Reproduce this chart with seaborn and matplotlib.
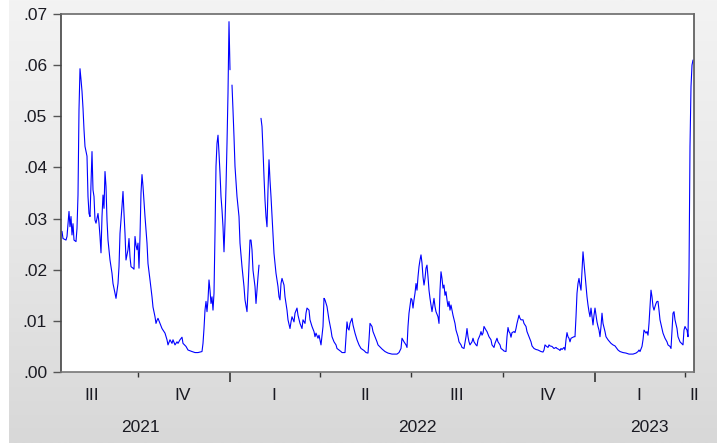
import numpy as np
import pandas as pd
import matplotlib
matplotlib.use("Agg")
import matplotlib.pyplot as plt
import matplotlib.dates as mdates
from matplotlib.colors import LinearSegmentedColormap
from matplotlib.ticker import FixedLocator, FuncFormatter, NullFormatter
from matplotlib.transforms import blended_transform_factory
import seaborn as sns

# ---------------- data ----------------
dates = [
 "2021-07-17","2021-07-18","2021-07-21","2021-07-22","2021-07-24","2021-07-25","2021-07-26","2021-07-27","2021-07-28","2021-07-29",
 "2021-07-31","2021-08-01","2021-08-02","2021-08-03","2021-08-04","2021-08-05","2021-08-06","2021-08-07","2021-08-08","2021-08-09",
 "2021-08-11","2021-08-12","2021-08-13","2021-08-14","2021-08-16","2021-08-17","2021-08-18","2021-08-19","2021-08-20","2021-08-22",
 "2021-08-23","2021-08-24","2021-08-25","2021-08-26","2021-08-27","2021-08-28","2021-08-29","2021-08-30","2021-08-31","2021-09-01",
 "2021-09-03","2021-09-05","2021-09-06","2021-09-08","2021-09-09","2021-09-11","2021-09-12","2021-09-13","2021-09-15","2021-09-16",
 "2021-09-17","2021-09-18","2021-09-19","2021-09-21","2021-09-22","2021-09-23","2021-09-24","2021-09-26","2021-09-27","2021-09-28",
 "2021-09-29","2021-09-30","2021-10-01","2021-10-02","2021-10-03","2021-10-04","2021-10-05","2021-10-06","2021-10-08","2021-10-10",
 "2021-10-11","2021-10-13","2021-10-15","2021-10-16","2021-10-18","2021-10-19","2021-10-20","2021-10-21","2021-10-23","2021-10-25",
 "2021-10-28","2021-10-30","2021-10-31","2021-11-02","2021-11-04","2021-11-05","2021-11-07","2021-11-09","2021-11-10","2021-11-12",
 "2021-11-14","2021-11-15","2021-11-18","2021-11-20","2021-11-24","2021-11-27","2021-11-30","2021-12-04","2021-12-05","2021-12-06",
 "2021-12-07","2021-12-08","2021-12-09","2021-12-10","2021-12-11","2021-12-12","2021-12-13","2021-12-14","2021-12-15","2021-12-16",
 "2021-12-17","2021-12-18","2021-12-19","2021-12-20","2021-12-21","2021-12-22","2021-12-23","2021-12-24","2021-12-25","2021-12-26",
 "2021-12-27","2021-12-28","2021-12-29","2021-12-30","2021-12-31","2022-01-01","2022-01-02","2022-01-03","2022-01-04","2022-01-05",
 "2022-01-06","2022-01-08","2022-01-10","2022-01-11","2022-01-13","2022-01-15","2022-01-16","2022-01-18","2022-01-19","2022-01-21",
 "2022-01-22","2022-01-23","2022-01-24","2022-01-26","2022-01-27","2022-01-29","2022-01-30","2022-01-31","2022-02-01","2022-02-02",
 "2022-02-03","2022-02-04","2022-02-05","2022-02-06","2022-02-07","2022-02-08","2022-02-09","2022-02-10","2022-02-11","2022-02-13",
 "2022-02-14","2022-02-16","2022-02-18","2022-02-19","2022-02-20","2022-02-21","2022-02-22","2022-02-24","2022-02-25","2022-02-27",
 "2022-02-28","2022-03-02","2022-03-03","2022-03-04","2022-03-06","2022-03-07","2022-03-09","2022-03-10","2022-03-12","2022-03-14",
 "2022-03-15","2022-03-17","2022-03-18","2022-03-19","2022-03-21","2022-03-22","2022-03-24","2022-03-26","2022-03-27","2022-03-28",
 "2022-03-30","2022-03-31","2022-04-01","2022-04-02","2022-04-04","2022-04-05","2022-04-06","2022-04-08","2022-04-10","2022-04-12",
 "2022-04-13","2022-04-15","2022-04-17","2022-04-18","2022-04-20","2022-04-22","2022-04-23","2022-04-26","2022-04-27","2022-04-28",
 "2022-04-29","2022-04-30","2022-05-01","2022-05-03","2022-05-04","2022-05-06","2022-05-08","2022-05-10","2022-05-12","2022-05-15",
 "2022-05-17","2022-05-19","2022-05-20","2022-05-21","2022-05-23","2022-05-24","2022-05-26","2022-05-28","2022-05-29","2022-06-02",
 "2022-06-05","2022-06-08","2022-06-12","2022-06-17","2022-06-19","2022-06-21","2022-06-22","2022-06-24","2022-06-26","2022-06-27",
 "2022-06-28","2022-06-29","2022-07-01","2022-07-02","2022-07-03","2022-07-04","2022-07-05","2022-07-06","2022-07-07","2022-07-08",
 "2022-07-09","2022-07-10","2022-07-11","2022-07-12","2022-07-13","2022-07-14","2022-07-15","2022-07-16","2022-07-17","2022-07-18",
 "2022-07-19","2022-07-20","2022-07-21","2022-07-22","2022-07-23","2022-07-24","2022-07-25","2022-07-26","2022-07-28","2022-07-29",
 "2022-07-30","2022-07-31","2022-08-01","2022-08-02","2022-08-03","2022-08-04","2022-08-05","2022-08-06","2022-08-07","2022-08-08",
 "2022-08-09","2022-08-10","2022-08-11","2022-08-12","2022-08-14","2022-08-15","2022-08-17","2022-08-18","2022-08-20","2022-08-21",
 "2022-08-23","2022-08-25","2022-08-26","2022-08-27","2022-08-28","2022-08-29","2022-08-31","2022-09-01","2022-09-02","2022-09-04",
 "2022-09-05","2022-09-06","2022-09-08","2022-09-09","2022-09-10","2022-09-11","2022-09-12","2022-09-14","2022-09-15","2022-09-17",
 "2022-09-19","2022-09-20","2022-09-22","2022-09-23","2022-09-25","2022-09-26","2022-09-28","2022-09-29","2022-10-01","2022-10-02",
 "2022-10-04","2022-10-05","2022-10-06","2022-10-07","2022-10-08","2022-10-09","2022-10-10","2022-10-12","2022-10-13","2022-10-14",
 "2022-10-15","2022-10-17","2022-10-18","2022-10-19","2022-10-21","2022-10-22","2022-10-24","2022-10-25","2022-10-27","2022-10-29",
 "2022-10-30","2022-11-01","2022-11-03","2022-11-05","2022-11-06","2022-11-08","2022-11-10","2022-11-11","2022-11-12","2022-11-13",
 "2022-11-15","2022-11-16","2022-11-17","2022-11-19","2022-11-20","2022-11-21","2022-11-23","2022-11-24","2022-11-26","2022-11-27",
 "2022-11-28","2022-11-29","2022-12-01","2022-12-02","2022-12-03","2022-12-04","2022-12-05","2022-12-06","2022-12-07","2022-12-08",
 "2022-12-10","2022-12-11","2022-12-12","2022-12-13","2022-12-14","2022-12-15","2022-12-16","2022-12-17","2022-12-18","2022-12-19",
 "2022-12-20","2022-12-21","2022-12-22","2022-12-23","2022-12-24","2022-12-25","2022-12-26","2022-12-27","2022-12-28","2022-12-29",
 "2022-12-30","2022-12-31","2023-01-01","2023-01-02","2023-01-03","2023-01-04","2023-01-05","2023-01-06","2023-01-07","2023-01-08",
 "2023-01-09","2023-01-11","2023-01-12","2023-01-14","2023-01-17","2023-01-19","2023-01-21","2023-01-24","2023-01-26","2023-01-29",
 "2023-02-01","2023-02-04","2023-02-08","2023-02-11","2023-02-13","2023-02-14","2023-02-15","2023-02-17","2023-02-18","2023-02-19",
 "2023-02-20","2023-02-21","2023-02-22","2023-02-23","2023-02-24","2023-02-25","2023-02-26","2023-02-27","2023-02-28","2023-03-01",
 "2023-03-02","2023-03-03","2023-03-04","2023-03-05","2023-03-06","2023-03-07","2023-03-09","2023-03-10","2023-03-12","2023-03-14",
 "2023-03-15","2023-03-17","2023-03-18","2023-03-19","2023-03-20","2023-03-21","2023-03-22","2023-03-24","2023-03-25","2023-03-27",
 "2023-03-29","2023-03-30","2023-03-31","2023-04-01","2023-04-02","2023-04-03","2023-04-04","2023-04-05","2023-04-06","2023-04-07",
 "2023-04-08","2023-04-09",
]
values = [
 .0275,.0261,.0258,.0265,.0314,.0284,.0304,.0268,.0290,.0258,
 .0255,.0281,.0346,.0513,.0593,.0572,.0549,.0516,.0474,.0441,
 .0422,.0343,.0310,.0304,.0431,.0356,.0343,.0297,.0291,.0310,
 .0291,.0265,.0233,.0304,.0346,.0320,.0392,.0363,.0297,.0258,
 .0219,.0193,.0173,.0154,.0144,.0173,.0206,.0271,.0324,.0353,
 .0310,.0271,.0219,.0239,.0261,.0225,.0206,.0203,.0201,.0265,
 .0248,.0239,.0252,.0203,.0265,.0350,.0386,.0363,.0304,.0252,
 .0212,.0180,.0147,.0127,.0108,.0095,.0101,.0105,.0095,.0085,
 .0076,.0063,.0053,.0063,.0056,.0063,.0053,.0059,.0056,.0063,
 .0068,.0056,.0050,.0043,.0040,.0038,.0038,.0040,.0056,.0085,
 .0121,.0138,.0118,.0141,.0180,.0160,.0134,.0147,.0121,.0154,
 .0271,.0402,.0447,.0463,.0428,.0389,.0343,.0317,.0284,.0235,
 .0291,.0362,.0447,.0545,.0685,.0591,np.nan,.0561,.0512,.0460,
 .0402,.0343,.0304,.0252,.0206,.0167,.0141,.0118,.0160,.0258,
 .0258,.0239,.0199,.0167,.0134,.0186,.0209,np.nan,.0496,.0480,
 .0434,.0382,.0336,.0304,.0284,.0356,.0415,.0375,.0343,.0271,
 .0232,.0193,.0167,.0147,.0141,.0173,.0183,.0170,.0147,.0121,
 .0102,.0085,.0098,.0108,.0098,.0115,.0125,.0111,.0095,.0085,
 .0102,.0095,.0115,.0125,.0121,.0102,.0089,.0079,.0069,.0076,
 .0066,.0072,.0063,.0053,.0089,.0144,.0141,.0128,.0102,.0082,
 .0069,.0059,.0053,.0046,.0043,.0040,.0038,.0038,.0069,.0098,
 .0085,.0082,.0095,.0105,.0092,.0076,.0063,.0053,.0046,.0042,
 .0038,.0037,.0063,.0095,.0089,.0079,.0069,.0059,.0053,.0045,
 .0040,.0037,.0035,.0035,.0038,.0046,.0066,.0059,.0053,.0048,
 .0089,.0115,.0144,.0141,.0125,.0141,.0154,.0173,.0160,.0186,
 .0206,.0219,.0229,.0213,.0186,.0170,.0183,.0203,.0209,.0186,
 .0160,.0144,.0131,.0118,.0131,.0144,.0128,.0118,.0108,.0095,
 .0160,.0196,.0183,.0164,.0170,.0150,.0157,.0141,.0128,.0138,
 .0121,.0131,.0121,.0111,.0095,.0082,.0069,.0059,.0053,.0048,
 .0046,.0069,.0085,.0069,.0059,.0053,.0059,.0066,.0059,.0053,
 .0051,.0063,.0072,.0079,.0072,.0076,.0089,.0082,.0079,.0069,
 .0063,.0053,.0048,.0056,.0066,.0059,.0053,.0046,.0043,.0041,
 .0040,.0069,.0087,.0079,.0076,.0068,.0077,.0079,.0077,.0085,
 .0095,.0111,.0105,.0102,.0102,.0095,.0089,.0079,.0069,.0059,
 .0051,.0046,.0044,.0043,.0042,.0040,.0039,.0043,.0053,.0051,
 .0048,.0053,.0051,.0050,.0048,.0046,.0048,.0046,.0044,.0042,
 .0046,.0044,.0048,.0043,.0063,.0077,.0069,.0066,.0059,.0066,
 .0068,.0069,.0069,.0108,.0154,.0173,.0183,.0170,.0160,.0199,
 .0235,.0213,.0193,.0167,.0147,.0131,.0118,.0108,.0125,.0108,
 .0092,.0111,.0125,.0111,.0098,.0089,.0082,.0069,.0089,.0115,
 .0095,.0079,.0069,.0063,.0056,.0053,.0051,.0043,.0040,.0038,
 .0037,.0035,.0035,.0037,.0040,.0043,.0040,.0050,.0063,.0082,
 .0079,.0076,.0079,.0072,.0095,.0128,.0160,.0147,.0128,.0121,
 .0128,.0134,.0138,.0138,.0121,.0102,.0085,.0076,.0066,.0059,
 .0053,.0050,.0046,.0082,.0115,.0118,.0102,.0085,.0069,.0059,
 .0055,.0053,.0082,.0089,.0085,.0082,.0069,.0193,.0441,.0558,
 .0600,.0610,
]

x_start, x_end = "2021-07-16", "2023-04-10"
quarter_bounds = ["2021-10-01", "2022-04-01", "2022-07-01", "2022-10-01", "2023-04-01"]
year_bounds = ["2022-01-01", "2023-01-01"]
quarter_labels = ["III", "IV", "I", "II", "III", "IV", "I", "II"]
quarter_label_dates = ["2021-08-16", "2021-11-15", "2022-02-14", "2022-05-16",
                       "2022-08-16", "2022-11-15", "2023-02-14", "2023-04-10"]
year_labels = ["2021", "2022", "2023"]
year_label_dates = ["2021-10-03", "2022-07-07", "2023-02-24"]
y_ticks = [0.00, 0.01, 0.02, 0.03, 0.04, 0.05, 0.06, 0.07]

# ---------------- styling ----------------
sns.set_theme(style="white")
plt.rcParams['font.family'] = ['Liberation Sans', 'DejaVu Sans']

df = pd.DataFrame({"date": pd.to_datetime(dates), "value": values})
df["segment"] = df["value"].isna().cumsum()
df = df.dropna()

W, H = 717, 443
fig = plt.figure(figsize=(W / 100, H / 100), dpi=100)
fig.patch.set_facecolor("white")

# grey gradient background like EViews
bg = fig.add_axes([9 / W, 0, 1 - 9 / W, 1], zorder=0)
grad = np.linspace(0, 1, 256).reshape(-1, 1)
cmap = LinearSegmentedColormap.from_list("g", ["#f3f3f3", "#e8e8e8", "#d8d8d8"])
bg.imshow(grad, aspect="auto", cmap=cmap, extent=[0, 1, 0, 1], origin="upper")
bg.set_axis_off()

ax = fig.add_axes([61 / W, 1 - 372 / H, 633 / W, 358 / H], zorder=1)
ax.set_facecolor("white")
sns.lineplot(data=df, x="date", y="value", units="segment", estimator=None,
             color="#0000ff", linewidth=0.8, ax=ax, legend=False)

ax.set_xlim(pd.Timestamp(x_start), pd.Timestamp(x_end))
ax.set_ylim(0, 0.07)
ax.set_xlabel("")
ax.set_ylabel("")

text_color = "#1a1a22"
ax.yaxis.set_major_locator(FixedLocator(y_ticks))
ax.yaxis.set_major_formatter(FuncFormatter(lambda v, p: f"{v:.2f}".lstrip("0")))
ax.tick_params(axis="y", which="major", direction="out", length=6, width=1,
               color="#555555", labelsize=12.5, labelcolor=text_color, pad=4, left=True)

ax.xaxis.set_major_locator(FixedLocator(mdates.date2num(pd.to_datetime(year_bounds))))
ax.xaxis.set_minor_locator(FixedLocator(mdates.date2num(pd.to_datetime(quarter_bounds))))
ax.xaxis.set_major_formatter(NullFormatter())
ax.xaxis.set_minor_formatter(NullFormatter())
ax.tick_params(axis="x", which="major", direction="out", length=7, width=1.2,
               color="#333333", bottom=True)
ax.tick_params(axis="x", which="minor", direction="out", length=3.5, width=1,
               color="#333333", bottom=True)

ax.spines["left"].set_color("#444444")
ax.spines["bottom"].set_color("#777777")
ax.spines["top"].set_color("#6a6a6a")
ax.spines["right"].set_color("#555555")
for side in ["left", "bottom", "top", "right"]:
    ax.spines[side].set_linewidth(1.2)

tr = blended_transform_factory(ax.transData, fig.transFigure)
for lab, d in zip(quarter_labels, quarter_label_dates):
    ax.text(mdates.date2num(pd.Timestamp(d)), 1 - 395 / H, lab, transform=tr,
            ha="center", va="center", fontsize=12.5, color=text_color, clip_on=False)
for lab, d in zip(year_labels, year_label_dates):
    ax.text(mdates.date2num(pd.Timestamp(d)), 1 - 427 / H, lab, transform=tr,
            ha="center", va="center", fontsize=12.5, color=text_color, clip_on=False)

fig.savefig("out.png", dpi=100)
